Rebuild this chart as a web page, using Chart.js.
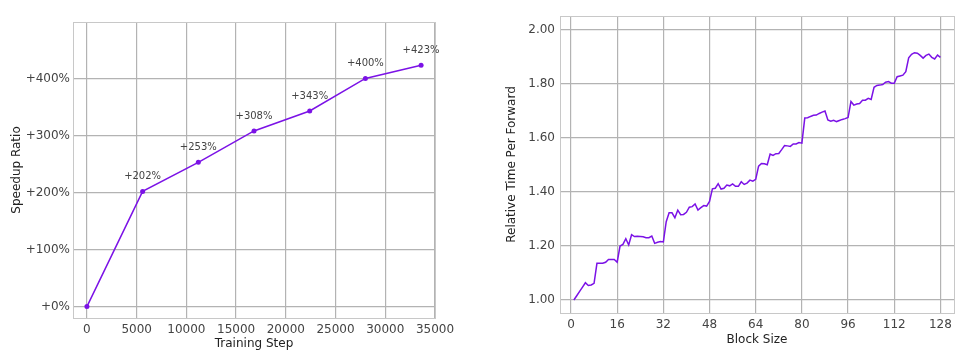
<!DOCTYPE html>
<html><head><meta charset="utf-8">
<script src="https://cdn.jsdelivr.net/npm/chart.js@4.4.1/dist/chart.umd.min.js"></script>
<style>
html,body{margin:0;padding:0;background:#fff;width:970px;height:357px;overflow:hidden;}
#c1{position:absolute;left:0;top:0;}
#c2{position:absolute;left:500px;top:0;}
</style></head><body>
<canvas id="c1" width="460" height="357"></canvas>
<canvas id="c2" width="470" height="357"></canvas>
<script>
// ---- Left chart data ----
const trainingSteps = [0, 5600, 11200, 16800, 22400, 28000, 33600];
const speedupPct = [0, 202, 253, 308, 343, 400, 423];
const stepTicks = [0, 5000, 10000, 15000, 20000, 25000, 30000, 35000];
const speedupTicks = [0, 100, 200, 300, 400];

// ---- Right chart data ----
const blockSizes = [1,2,3,4,5,6,7,8,9,10,11,12,13,14,15,16,17,18,19,20,21,22,23,24,25,26,27,28,29,30,31,32,
33,34,35,36,37,38,39,40,41,42,43,44,45,46,47,48,49,50,51,52,53,54,55,56,57,58,59,60,61,62,63,64,
65,66,67,68,69,70,71,72,73,74,75,76,77,78,79,80,81,82,83,84,85,86,87,88,89,90,91,92,93,94,95,96,
97,98,99,100,101,102,103,104,105,106,107,108,109,110,111,112,113,114,115,116,117,118,119,120,121,122,123,124,125,126,127,128];
const relTime = [1.000,1.016,1.032,1.048,1.064,1.054,1.056,1.062,1.136,1.136,1.136,1.140,1.150,1.150,1.150,1.140,
1.200,1.206,1.227,1.204,1.242,1.235,1.236,1.235,1.234,1.231,1.231,1.237,1.210,1.214,1.217,1.215,
1.290,1.323,1.323,1.305,1.333,1.316,1.317,1.325,1.344,1.346,1.356,1.333,1.342,1.350,1.348,1.365,
1.412,1.414,1.431,1.411,1.414,1.426,1.423,1.430,1.421,1.421,1.438,1.428,1.433,1.444,1.440,1.447,
1.496,1.506,1.505,1.501,1.541,1.536,1.542,1.543,1.557,1.572,1.571,1.569,1.578,1.578,1.583,1.581,
1.674,1.675,1.680,1.684,1.685,1.691,1.696,1.700,1.667,1.662,1.666,1.661,1.665,1.669,1.672,1.676,
1.735,1.722,1.726,1.728,1.740,1.740,1.747,1.743,1.788,1.795,1.796,1.798,1.807,1.809,1.803,1.803,
1.827,1.830,1.833,1.846,1.897,1.910,1.916,1.914,1.906,1.896,1.906,1.911,1.899,1.893,1.907,1.899];
const blockTicks = [0, 16, 32, 48, 64, 80, 96, 112, 128];
const relTimeTicks = [1.0, 1.2, 1.4, 1.6, 1.8, 2.0];

const LINE = '#7b12e6';
const GRID = '#b3b3b3';
const FONT = 'DejaVu Sans';
Chart.defaults.font.family = FONT;

const framePlugin = {
  id: 'frame',
  beforeDatasetsDraw(chart) {
    const a = chart.chartArea, ctx = chart.ctx;
    ctx.save();
    ctx.strokeStyle = '#c8c8c8';
    ctx.lineWidth = 1;
    ctx.strokeRect(Math.round(a.left) + 0.5, Math.round(a.top) + 0.5, Math.round(a.right - a.left), Math.round(a.bottom - a.top));
    ctx.restore();
  }
};

const labelPlugin = {
  id: 'ptlabels',
  afterDatasetsDraw(chart) {
    if (chart.canvas.id !== 'c1') return;
    const ctx = chart.ctx;
    const meta = chart.getDatasetMeta(0);
    ctx.save();
    ctx.font = '10px "' + FONT + '"';
    ctx.fillStyle = '#444';
    ctx.textAlign = 'center';
    ctx.textBaseline = 'middle';
    meta.data.forEach((pt, i) => {
      if (speedupPct[i] === 0) return;
      ctx.fillText('+' + speedupPct[i] + '%', pt.x, pt.y - 15);
    });
    ctx.restore();
  }
};

function setTicks(arr) { return (s) => { s.ticks = arr.map(v => ({ value: v })); }; }

new Chart(document.getElementById('c1'), {
  type: 'line',
  data: { datasets: [{
    data: trainingSteps.map((x, i) => ({ x: x, y: speedupPct[i] })),
    borderColor: LINE, backgroundColor: LINE, borderWidth: 1.5,
    pointRadius: 2.5, pointBorderWidth: 0, tension: 0
  }]},
  options: {
    responsive: false, animation: false, devicePixelRatio: 1,
    layout: { padding: { left: 0, right: 25, top: 22, bottom: 0 } },
    plugins: { legend: { display: false }, tooltip: { enabled: false } },
    scales: {
      x: {
        type: 'linear', min: -1400, max: 35000,
        afterBuildTicks: setTicks(stepTicks),
        afterFit: (s) => { s.height = 39; },
        grid: { color: GRID, lineWidth: 1.2, drawTicks: false },
        border: { display: false },
        ticks: { padding: 5, color: '#444', font: { size: 12 }, maxRotation: 0, autoSkip: false, callback: (v) => String(v) },
        title: { display: true, text: 'Training Step', color: '#222', font: { size: 12 }, padding: { top: 0, bottom: 6 } }
      },
      y: {
        type: 'linear', min: -20, max: 499,
        afterBuildTicks: setTicks(speedupTicks),
        afterFit: (s) => { s.width = 73; },
        grid: { color: GRID, lineWidth: 1.2, drawTicks: false },
        border: { display: false },
        ticks: { padding: 3, color: '#444', font: { size: 12 }, callback: (v) => '+' + v + '%' },
        title: { display: true, text: 'Speedup Ratio', color: '#222', font: { size: 12 }, padding: { top: 10, bottom: 0 } }
      }
    }
  },
  plugins: [framePlugin, labelPlugin]
});

new Chart(document.getElementById('c2'), {
  type: 'line',
  data: { datasets: [{
    data: blockSizes.map((x, i) => ({ x: x, y: relTime[i] })),
    borderColor: LINE, backgroundColor: LINE, borderWidth: 1.5,
    pointRadius: 0, tension: 0
  }]},
  options: {
    responsive: false, animation: false, devicePixelRatio: 1,
    layout: { padding: { left: 0, right: 16, top: 16, bottom: 0 } },
    plugins: { legend: { display: false }, tooltip: { enabled: false } },
    scales: {
      x: {
        type: 'linear', min: -3.8, max: 132.7,
        afterBuildTicks: setTicks(blockTicks),
        afterFit: (s) => { s.height = 44; },
        grid: { color: GRID, lineWidth: 1.2, drawTicks: false },
        border: { display: false },
        ticks: { padding: 5, color: '#444', font: { size: 12 }, maxRotation: 0, autoSkip: false, callback: (v) => String(v) },
        title: { display: true, text: 'Block Size', color: '#222', font: { size: 12 }, padding: { top: 0, bottom: 10 } }
      },
      y: {
        type: 'linear', min: 0.952, max: 2.052,
        afterBuildTicks: setTicks(relTimeTicks),
        afterFit: (s) => { s.width = 60; },
        grid: { color: GRID, lineWidth: 1.2, drawTicks: false },
        border: { display: false },
        ticks: { padding: 5, color: '#444', font: { size: 12 }, callback: (v) => Number(v).toFixed(2) },
        title: { display: true, text: 'Relative Time Per Forward', color: '#222', font: { size: 12 }, padding: { top: 4.5, bottom: 0 } }
      }
    }
  },
  plugins: [framePlugin]
});
</script>
</body></html>
